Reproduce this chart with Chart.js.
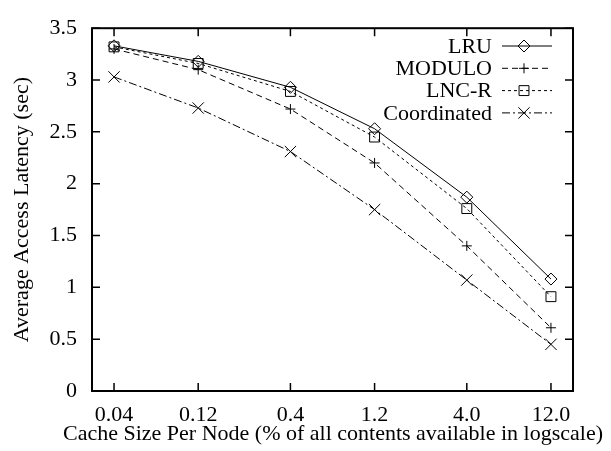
<!DOCTYPE html>
<html>
<head>
<meta charset="utf-8">
<script src="https://cdn.jsdelivr.net/npm/chart.js@4/dist/chart.umd.min.js"></script>
<style>
  body { margin: 0; background: #fff; }
  canvas { display: block; }
</style>
</head>
<body>
<canvas id="latencyChart" width="611" height="451"></canvas>
<script>
// cache size per node (% of contents), log scale
var cacheSizes = [0.04, 0.12, 0.4, 1.2, 4.0, 12.0];
var cacheLabels = ['0.04', '0.12', '0.4', '1.2', '4.0', '12.0'];

// average access latency (sec)
var lru = [3.33, 3.18, 2.93, 2.53, 1.87, 1.08];
var modulo = [3.30, 3.10, 2.72, 2.20, 1.40, 0.61];
var lncr = [3.32, 3.16, 2.89, 2.45, 1.76, 0.91];
var coordinated = [3.03, 2.73, 2.31, 1.75, 1.07, 0.45];

var xTitle = 'Cache Size Per Node (% of all contents available in logscale)';
var yTitle = 'Average Access Latency (sec)';

var serif = 'Liberation Serif';
var fontSize = 22;

function points(values) {
    return values.map(function(v, i) { return { x: cacheSizes[i], y: v }; });
}

function series(label, values, style, radius, dash) {
    return {
        label: label,
        data: points(values),
        borderColor: '#000',
        borderWidth: 1,
        borderDash: dash,
        backgroundColor: 'rgba(0,0,0,0)',
        pointStyle: style,
        pointRadius: radius,
        pointBorderColor: '#000',
        pointBorderWidth: 1,
        pointBackgroundColor: 'rgba(0,0,0,0)',
        tension: 0
    };
}

// gnuplot style frame with inward ticks, mirrored on all sides
var framePlugin = {
    id: 'frame',
    afterDraw: function(chart) {
        var ctx = chart.ctx, a = chart.chartArea;
        var xs = chart.scales.x, ys = chart.scales.y;
        var tl = 8;
        ctx.save();
        ctx.strokeStyle = '#000';
        ctx.lineWidth = 1.5;
        ctx.beginPath();
        cacheSizes.forEach(function(v) {
            var px = xs.getPixelForValue(v);
            ctx.moveTo(px, a.bottom); ctx.lineTo(px, a.bottom - tl);
            ctx.moveTo(px, a.top); ctx.lineTo(px, a.top + tl);
        });
        ys.ticks.forEach(function(t) {
            var py = ys.getPixelForValue(t.value);
            ctx.moveTo(a.left, py); ctx.lineTo(a.left + tl, py);
            ctx.moveTo(a.right, py); ctx.lineTo(a.right - tl, py);
        });
        ctx.stroke();
        ctx.lineWidth = 2;
        ctx.strokeRect(a.left, a.top, a.right - a.left, a.bottom - a.top);

        // x title is wider than the plot, so it is drawn here instead of by the scale
        ctx.font = fontSize + 'px "' + serif + '"';
        ctx.fillStyle = '#000';
        ctx.textAlign = 'center';
        ctx.textBaseline = 'middle';
        ctx.fillText(xTitle, 333, 434);
        ctx.restore();
    }
};

// legend in the top right corner: text then line sample with marker
function drawMarker(ctx, style, r, x, y) {
    ctx.beginPath();
    if (style === 'rectRot') {
        ctx.moveTo(x - r, y); ctx.lineTo(x, y - r); ctx.lineTo(x + r, y); ctx.lineTo(x, y + r); ctx.closePath();
    } else if (style === 'rect') {
        var s = r * Math.SQRT1_2;
        ctx.rect(x - s, y - s, 2 * s, 2 * s);
    } else if (style === 'cross') {
        ctx.moveTo(x - r, y); ctx.lineTo(x + r, y); ctx.moveTo(x, y - r); ctx.lineTo(x, y + r);
    } else if (style === 'crossRot') {
        var c = r * Math.SQRT1_2;
        ctx.moveTo(x - c, y - c); ctx.lineTo(x + c, y + c); ctx.moveTo(x - c, y + c); ctx.lineTo(x + c, y - c);
    }
    ctx.stroke();
}

var legendPlugin = {
    id: 'cornerLegend',
    afterDraw: function(chart) {
        var ctx = chart.ctx;
        var textRight = 492, lineStart = 502, lineEnd = 552, y0 = 46, step = 22.3;
        ctx.save();
        ctx.font = fontSize + 'px "' + serif + '"';
        ctx.fillStyle = '#000';
        ctx.textAlign = 'right';
        ctx.textBaseline = 'middle';
        chart.data.datasets.forEach(function(ds, i) {
            var y = y0 + i * step;
            ctx.fillText(ds.label, textRight, y + 1);
            ctx.strokeStyle = '#000';
            ctx.lineWidth = 1;
            ctx.setLineDash(ds.borderDash || []);
            ctx.beginPath();
            ctx.moveTo(lineStart, y); ctx.lineTo(lineEnd, y);
            ctx.stroke();
            ctx.setLineDash([]);
            drawMarker(ctx, ds.pointStyle, ds.pointRadius, (lineStart + lineEnd) / 2 - 3, y);
        });
        ctx.restore();
    }
};

var ctx = document.getElementById('latencyChart').getContext('2d');
var latencyChart = new Chart(ctx, {
    type: 'line',
    data: {
        datasets: [
            series('LRU', lru, 'rectRot', 6, []),
            series('MODULO', modulo, 'cross', 5, [6, 4]),
            series('LNC-R', lncr, 'rect', 7, [3, 3]),
            series('Coordinated', coordinated, 'crossRot', 8, [8, 3, 2, 3])
        ]
    },
    options: {
        responsive: false,
        animation: false,
        layout: { padding: { top: 15, right: 38, left: 0, bottom: 0 } },
        plugins: {
            legend: { display: false },
            tooltip: { enabled: false }
        },
        scales: {
            x: {
                type: 'logarithmic',
                min: 0.03,
                max: 16,
                afterBuildTicks: function(scale) {
                    scale.ticks = cacheSizes.map(function(v) { return { value: v }; });
                },
                afterFit: function(scale) { scale.height = 60; },
                grid: { display: false, drawTicks: false },
                border: { display: false },
                ticks: {
                    autoSkip: false,
                    maxRotation: 0,
                    padding: 11,
                    color: '#000',
                    font: { family: serif, size: fontSize },
                    callback: function(value) {
                        var i = cacheSizes.indexOf(value);
                        return i >= 0 ? cacheLabels[i] : '';
                    }
                },
                title: { display: false }
            },
            y: {
                min: 0,
                max: 3.5,
                afterFit: function(scale) { scale.width = 92; },
                grid: { display: false, drawTicks: false },
                border: { display: false },
                ticks: {
                    stepSize: 0.5,
                    padding: 15,
                    color: '#000',
                    font: { family: serif, size: fontSize },
                    callback: function(value) { return String(value); }
                },
                title: {
                    display: true,
                    text: yTitle,
                    color: '#000',
                    font: { family: serif, size: fontSize },
                    padding: { top: 9, bottom: 0 }
                }
            }
        }
    },
    plugins: [framePlugin, legendPlugin]
});
</script>
</body>
</html>
